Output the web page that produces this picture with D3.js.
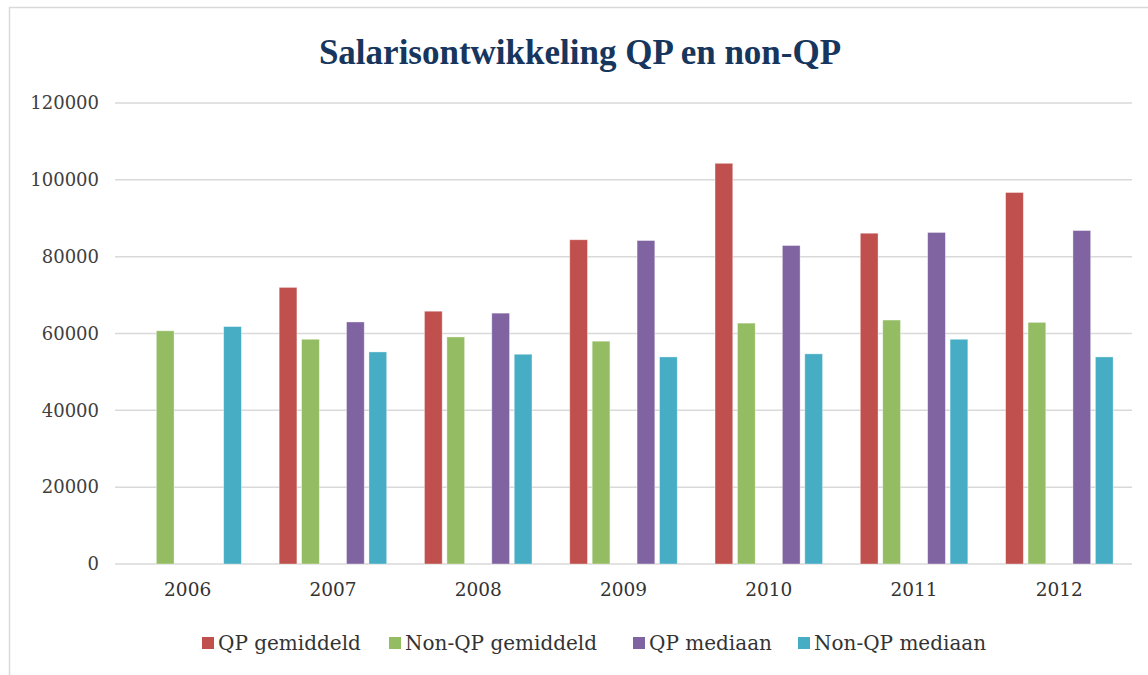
<!DOCTYPE html>
<html>
<head>
<meta charset="utf-8">
<script src="https://cdn.jsdelivr.net/npm/d3@7"></script>
<style>
  body { margin: 0; background: #fff; }
  svg { display: block; }
</style>
</head>
<body>
<div id="chart"></div>
<script>
// data
var years = ["2006", "2007", "2008", "2009", "2010", "2011", "2012"];
var seriesNames = ["QP gemiddeld", "Non-QP gemiddeld", "QP mediaan", "Non-QP mediaan"];
var qpGemiddeld    = [null, 72000, 65800, 84400, 104300, 86100, 96700];
var nonQpGemiddeld = [60700, 58500, 59100, 58000, 62700, 63500, 62900];
var qpMediaan      = [null, 63000, 65300, 84200, 82900, 86300, 86800];
var nonQpMediaan   = [61800, 55200, 54600, 53900, 54700, 58500, 53900];
var yTicks = [0, 20000, 40000, 60000, 80000, 100000, 120000];

var seriesValues = [qpGemiddeld, nonQpGemiddeld, qpMediaan, nonQpMediaan];
var colors = ["#C0504D", "#94BC62", "#8064A2", "#46ADC5"];
// slot order inside a year group: there is an empty slot between the two pairs
var slots = ["QP gemiddeld", "Non-QP gemiddeld", "_leeg", "QP mediaan", "Non-QP mediaan"];

var W = 1148, H = 675;
var svg = d3.select("#chart").append("svg")
    .attr("width", W)
    .attr("height", H);

// chart frame
svg.append("rect")
    .attr("x", 9.5).attr("y", 7.5)
    .attr("width", W + 10).attr("height", H + 10)
    .attr("fill", "#fff")
    .attr("stroke", "#d9d9d9")
    .attr("stroke-width", 1.5);

var serif = "'DejaVu Serif', serif";

svg.append("text")
    .attr("x", 580).attr("y", 64)
    .attr("text-anchor", "middle")
    .attr("font-family", "'Liberation Serif', serif")
    .attr("font-weight", "bold")
    .attr("font-size", 35)
    .attr("fill", "#17365D")
    .text("Salarisontwikkeling QP en non-QP");

var x0 = d3.scaleBand()
    .domain(years)
    .range([115, 1132])
    .paddingInner(0.26)
    .paddingOuter(0.13);

var x1 = d3.scaleBand()
    .domain(slots)
    .range([0, x0.bandwidth()])
    .paddingInner(0.21)
    .paddingOuter(0);

var y = d3.scaleLinear()
    .domain([0, 120000])
    .range([564, 103]);

// gridlines
svg.append("g")
    .selectAll("line")
    .data(yTicks)
    .enter().append("line")
        .attr("x1", 115).attr("x2", 1132)
        .attr("y1", function(d) { return y(d); })
        .attr("y2", function(d) { return y(d); })
        .attr("stroke", "#d9d9d9")
        .attr("stroke-width", 1.5);

// y axis labels
var yAxis = svg.append("g")
    .attr("transform", "translate(108,0)")
    .call(d3.axisLeft(y).tickValues(yTicks).tickSize(0).tickPadding(9).tickFormat(d3.format("d")));
yAxis.select(".domain").remove();
yAxis.selectAll("text")
    .attr("font-family", serif)
    .attr("font-size", 18)
    .attr("fill", "#404040");

// x axis labels
var xAxis = svg.append("g")
    .attr("transform", "translate(0,564)")
    .call(d3.axisBottom(x0).tickSize(0).tickPadding(19));
xAxis.select(".domain").remove();
xAxis.selectAll("text")
    .attr("font-family", serif)
    .attr("font-size", 18.5)
    .attr("fill", "#333");

// bars
var barData = [];
years.forEach(function(yr, i) {
    seriesNames.forEach(function(s, j) {
        if (seriesValues[j][i] != null) {
            barData.push({ year: yr, series: s, value: seriesValues[j][i], color: colors[j] });
        }
    });
});

svg.append("g")
    .selectAll("rect")
    .data(barData)
    .enter().append("rect")
        .attr("x", function(d) { return x0(d.year) + x1(d.series); })
        .attr("y", function(d) { return y(d.value); })
        .attr("width", x1.bandwidth())
        .attr("height", function(d) { return y(0) - y(d.value); })
        .attr("fill", function(d) { return d.color; })
        .attr("stroke", "rgba(255,255,255,0.45)")
        .attr("stroke-width", 0.8);

// legend
var legendX = [202, 389, 633, 798];
var legend = svg.append("g")
    .selectAll("g")
    .data(seriesNames)
    .enter().append("g")
        .attr("transform", function(d, i) { return "translate(" + legendX[i] + ",643)"; });
legend.append("rect")
    .attr("x", 0).attr("y", -6)
    .attr("width", 12).attr("height", 12)
    .attr("fill", function(d, i) { return colors[i]; });
legend.append("text")
    .attr("x", 16).attr("y", 7)
    .attr("font-family", serif)
    .attr("font-size", 20)
    .attr("fill", "#333")
    .text(function(d) { return d; });
</script>
</body>
</html>
